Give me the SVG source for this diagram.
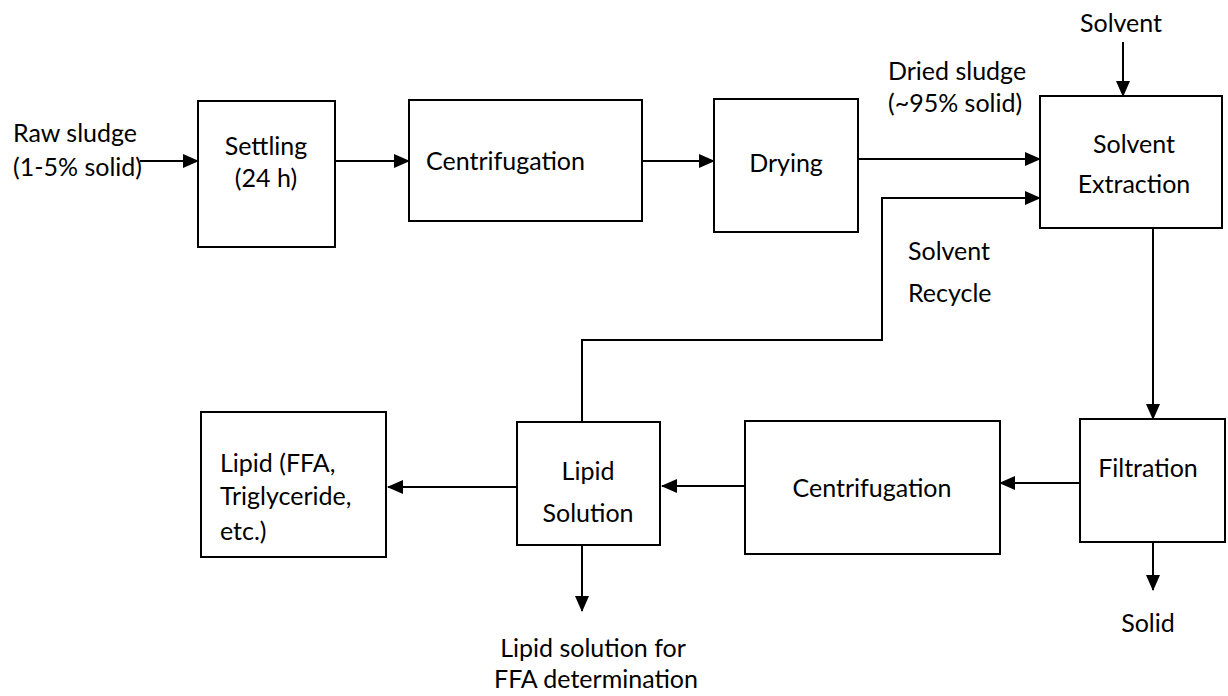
<svg xmlns="http://www.w3.org/2000/svg" width="1228" height="696" viewBox="0 0 1228 696">
  <style>
    .box { fill: #ffffff; stroke: #000000; stroke-width: 2; }
    .edge { fill: none; stroke: #000000; stroke-width: 2; }
    text { font-family: Lato, "Open Sans", sans-serif; font-size: 25px; fill: #000000; }
    .c { text-anchor: middle; }
  </style>
  <defs>
    <marker id="arrow" markerUnits="userSpaceOnUse" markerWidth="16" markerHeight="14" refX="15" refY="7" orient="auto">
      <path d="M0,0 L16,7 L0,14 Z" fill="#000000"/>
    </marker>
  </defs>

  <rect width="1228" height="696" fill="#ffffff"/>

  <!-- connectors -->
  <g id="connectors">
    <line class="edge" x1="140" y1="161" x2="198" y2="161" marker-end="url(#arrow)"/>
    <line class="edge" x1="335" y1="161" x2="409" y2="161" marker-end="url(#arrow)"/>
    <line class="edge" x1="642" y1="161" x2="714" y2="161" marker-end="url(#arrow)"/>
    <line class="edge" x1="858" y1="159" x2="1040" y2="159" marker-end="url(#arrow)"/>
    <line class="edge" x1="1123" y1="42" x2="1123" y2="96" marker-end="url(#arrow)"/>
    <polyline class="edge" points="582,422 582,340 882,340 882,198 1040,198" marker-end="url(#arrow)"/>
    <line class="edge" x1="1153" y1="228" x2="1153" y2="419" marker-end="url(#arrow)"/>
    <line class="edge" x1="1153" y1="542" x2="1153" y2="590" marker-end="url(#arrow)"/>
    <line class="edge" x1="1080" y1="483" x2="1000" y2="483" marker-end="url(#arrow)"/>
    <line class="edge" x1="745" y1="486" x2="662" y2="486" marker-end="url(#arrow)"/>
    <line class="edge" x1="517" y1="487" x2="388" y2="487" marker-end="url(#arrow)"/>
    <line class="edge" x1="582" y1="545" x2="582" y2="611" marker-end="url(#arrow)"/>
  </g>

  <!-- free labels -->
  <g id="labels">
    <text x="13" y="142">Raw sludge</text>
    <text x="13" y="176">(1-5% solid)</text>
    <text x="888" y="80">Dried sludge</text>
    <text x="888" y="112">(~95% solid)</text>
    <text x="1121" y="32" class="c">Solvent</text>
    <text x="908" y="260">Solvent</text>
    <text x="908" y="302">Recycle</text>
    <text x="1148" y="632" class="c">Solid</text>
    <text x="593" y="657" class="c">Lipid solution for</text>
    <text x="596" y="688" class="c">FFA determination</text>
  </g>

  <g id="settling">
    <rect class="box" x="198" y="101" width="137" height="146"/>
    <text x="266" y="155" class="c">Settling</text>
    <text x="266" y="187" class="c">(24 h)</text>
  </g>

  <g id="centrifugation-1">
    <rect class="box" x="409" y="100" width="233" height="121"/>
    <text x="426" y="170">Centrifugation</text>
  </g>

  <g id="drying">
    <rect class="box" x="714" y="99" width="144" height="133"/>
    <text x="786" y="172" class="c">Drying</text>
  </g>

  <g id="solvent-extraction">
    <rect class="box" x="1040" y="96" width="182" height="132"/>
    <text x="1134" y="153" class="c">Solvent</text>
    <text x="1134" y="193" class="c">Extraction</text>
  </g>

  <g id="filtration">
    <rect class="box" x="1080" y="419" width="145" height="123"/>
    <text x="1148" y="477" class="c">Filtration</text>
  </g>

  <g id="centrifugation-2">
    <rect class="box" x="745" y="421" width="255" height="133"/>
    <text x="872" y="497" class="c">Centrifugation</text>
  </g>

  <g id="lipid-solution">
    <rect class="box" x="517" y="422" width="143" height="123"/>
    <text x="588" y="480" class="c">Lipid</text>
    <text x="588" y="522" class="c">Solution</text>
  </g>

  <g id="lipid-product">
    <rect class="box" x="201" y="412" width="185" height="145"/>
    <text x="220" y="472">Lipid (FFA,</text>
    <text x="220" y="505">Triglyceride,</text>
    <text x="220" y="540">etc.)</text>
  </g>
</svg>
